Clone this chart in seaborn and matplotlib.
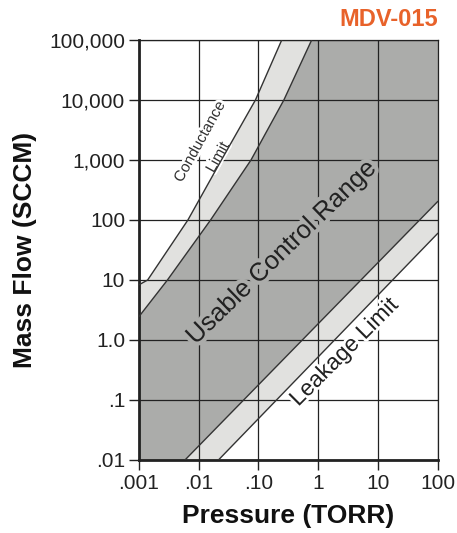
import numpy as np
import pandas as pd
import matplotlib
matplotlib.use("Agg")
import matplotlib.pyplot as plt
import matplotlib.patheffects as pe
import seaborn as sns

# ---- data (log-log chart) ----
cond_upper_x = [0.001, 0.0014, 0.0066, 0.024, 0.089, 0.245]
cond_upper_y = [8.3, 10, 100, 1000, 10000, 100000]
cond_lower_x = [0.001, 0.003, 0.0158, 0.075, 0.266, 0.776]
cond_lower_y = [2.45, 10, 100, 1000, 10000, 100000]
leak_upper_x = [0.0059, 100]
leak_upper_y = [0.01, 204]
leak_lower_x = [0.0214, 100]
leak_lower_y = [0.01, 60]

x_ticks = [0.001, 0.01, 0.1, 1, 10, 100]
x_tick_labels = [".001", ".01", ".10", "1", "10", "100"]
y_ticks = [0.01, 0.1, 1, 10, 100, 1000, 10000, 100000]
y_tick_labels = [".01", ".1", "1.0", "10", "100", "1,000", "10,000", "100,000"]

sns.set_style("white")
plt.rcParams['font.family'] = ['Liberation Sans', 'DejaVu Sans']

DARK = "#abacaa"
LIGHT = "#e1e1df"

fig = plt.figure(figsize=(4.57, 5.33), dpi=100)
ax = fig.add_axes([0.304, 0.137, 0.654, 0.788])
ax.set_xscale("log")
ax.set_yscale("log")
xmin, xmax = x_ticks[0], x_ticks[-1]
ymin, ymax = y_ticks[0], y_ticks[-1]
ax.set_xlim(xmin, xmax)
ax.set_ylim(ymin, ymax)

# conductance band (light)
ax.fill(cond_upper_x + cond_lower_x[::-1], cond_upper_y + cond_lower_y[::-1],
        color=LIGHT, lw=0, zorder=0)
# usable control range (dark)
ax.fill(cond_lower_x + [xmax] + leak_upper_x[::-1] + [xmin],
        cond_lower_y + [ymax] + leak_upper_y[::-1] + [ymin],
        color=DARK, lw=0, zorder=0)
# leakage band (light)
ax.fill(leak_upper_x + leak_lower_x[::-1], leak_upper_y + leak_lower_y[::-1],
        color=LIGHT, lw=0, zorder=0)

# grid
for xv in x_ticks:
    ax.axvline(xv, color="#222222", lw=0.9, zorder=1)
for yv in y_ticks:
    ax.axhline(yv, color="#222222", lw=0.9, zorder=1)

# boundary lines via seaborn
for xs, ys in [(cond_upper_x, cond_upper_y), (cond_lower_x, cond_lower_y),
               (leak_upper_x, leak_upper_y), (leak_lower_x, leak_lower_y)]:
    df = pd.DataFrame({"x": xs, "y": ys})
    sns.lineplot(data=df, x="x", y="y", ax=ax, sort=False, color="#333333",
                 lw=1.0, zorder=3, estimator=None)

ax.set_xticks(x_ticks)
ax.set_xticklabels(x_tick_labels)
ax.set_yticks(y_ticks)
ax.set_yticklabels(y_tick_labels)
ax.minorticks_off()
ax.tick_params(axis="both", which="major", direction="out", length=7, width=1,
               color="#222222", labelsize=15, labelcolor="#222222", pad=3,
               bottom=True, left=True)

for side in ["top", "right"]:
    ax.spines[side].set_linewidth(0.9)
    ax.spines[side].set_color("#222222")
for side in ["left", "bottom"]:
    ax.spines[side].set_linewidth(2)
    ax.spines[side].set_color("#222222")

ax.set_xlabel("Pressure (TORR)", fontsize=19, fontweight="bold", labelpad=8,
              color="#111111")
ax.set_ylabel("Mass Flow (SCCM)", fontsize=19, fontweight="bold", labelpad=9,
              color="#111111")

halo_white = [pe.withStroke(linewidth=4, foreground="white")]
halo_dark = [pe.withStroke(linewidth=6, foreground=DARK)]

ax.text(0.0105, 2000, "Conductance", rotation=61, rotation_mode="anchor",
        ha="center", va="center", fontsize=11, color="#333333", zorder=2,
        path_effects=halo_white)
ax.text(0.021, 1100, "Limit", rotation=61, rotation_mode="anchor",
        ha="center", va="center", fontsize=11, color="#333333", zorder=2,
        path_effects=halo_white)
ax.text(0.245, 29, "Usable Control Range", rotation=44, rotation_mode="anchor",
        ha="center", va="center", fontsize=18.5, color="#222222", zorder=2,
        path_effects=halo_dark)
ax.text(2.7, 0.63, "Leakage Limit", rotation=45, rotation_mode="anchor",
        ha="center", va="center", fontsize=16.5, color="#222222", zorder=2,
        path_effects=halo_white)

fig.text(438 / 457, 1 - 20 / 533, "MDV-015", ha="right", va="center",
         fontsize=17, fontweight="bold", color="#e8622a")

fig.savefig("out.png", dpi=100, facecolor="white")
